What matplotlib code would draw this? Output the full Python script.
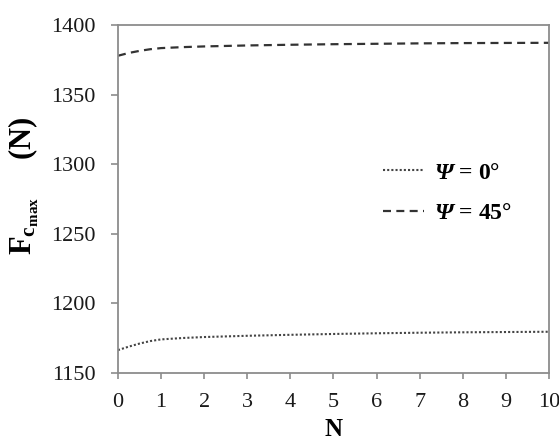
import matplotlib
matplotlib.use('Agg')
import matplotlib.pyplot as plt

# Data
N = [0, 0.25, 0.5, 0.75, 1, 1.5, 2, 3, 4, 5, 6, 7, 8, 9, 10]
fc_psi0 = [1166.5, 1169.0, 1171.2, 1173.0, 1174.2, 1175.2, 1175.9, 1176.8,
           1177.5, 1178.1, 1178.6, 1179.0, 1179.3, 1179.5, 1179.7]
fc_psi45 = [1378.0, 1380.0, 1381.5, 1382.7, 1383.5, 1384.2, 1384.7, 1385.4,
            1385.9, 1386.3, 1386.6, 1386.9, 1387.1, 1387.2, 1387.3]
# \mathsf is mapped to bold italic below (mathit forces Greek capitals upright)
labels = [r'$\mathsf{Ψ}$ = 0°', r'$\mathsf{Ψ}$ = 45°']
xticks = list(range(0, 11))
yticks = [1150, 1200, 1250, 1300, 1350, 1400]

plt.rcParams['font.family'] = ['Liberation Serif', 'DejaVu Serif']
plt.rcParams['mathtext.fontset'] = 'custom'
plt.rcParams['mathtext.rm'] = 'Liberation Serif:bold'
plt.rcParams['mathtext.it'] = 'Liberation Serif:italic:bold'
plt.rcParams['mathtext.bf'] = 'Liberation Serif:bold'
plt.rcParams['mathtext.sf'] = 'Liberation Serif:italic:bold'

fig = plt.figure(figsize=(5.59, 4.41), dpi=100)
ax = fig.add_axes([0.211, 0.154, 0.771, 0.789])

ax.plot(N, fc_psi0, color='#444444', lw=1.5, linestyle=(0, (1, 1)), label=labels[0])
ax.plot(N, fc_psi45, color='#333333', lw=1.6, linestyle=(0, (3.6, 2.4)), label=labels[1])

ax.set_xlim(0, 10)
ax.set_ylim(1150, 1400)
ax.set_xticks(xticks)
ax.set_yticks(yticks)

for s in ax.spines.values():
    s.set_color('#8c8c8c')
    s.set_linewidth(1.3)

ax.tick_params(axis='both', direction='out', color='#8c8c8c', width=1.2,
               labelsize=16, labelcolor='#1a1a1a')
ax.tick_params(axis='y', length=5, pad=11)
ax.tick_params(axis='x', length=4, pad=10)

ax.set_xlabel('N', fontsize=18, fontweight='bold', labelpad=5)
ax.set_ylabel(r'$\mathbf{F}_{\mathbf{c}_{\mathbf{max}}}$     (N)', fontsize=22,
              fontweight='bold')
ax.yaxis.set_label_coords(-0.178, 0.537)

ax.legend(loc='center left', bbox_to_anchor=(383 / 559, 1 - 193 / 441),
          bbox_transform=fig.transFigure, frameon=False, borderpad=0,
          borderaxespad=0, handlelength=1.75, handletextpad=0.4,
          labelspacing=0.8, prop={'size': 17, 'weight': 'bold'})

fig.savefig('out.png', dpi=100)
